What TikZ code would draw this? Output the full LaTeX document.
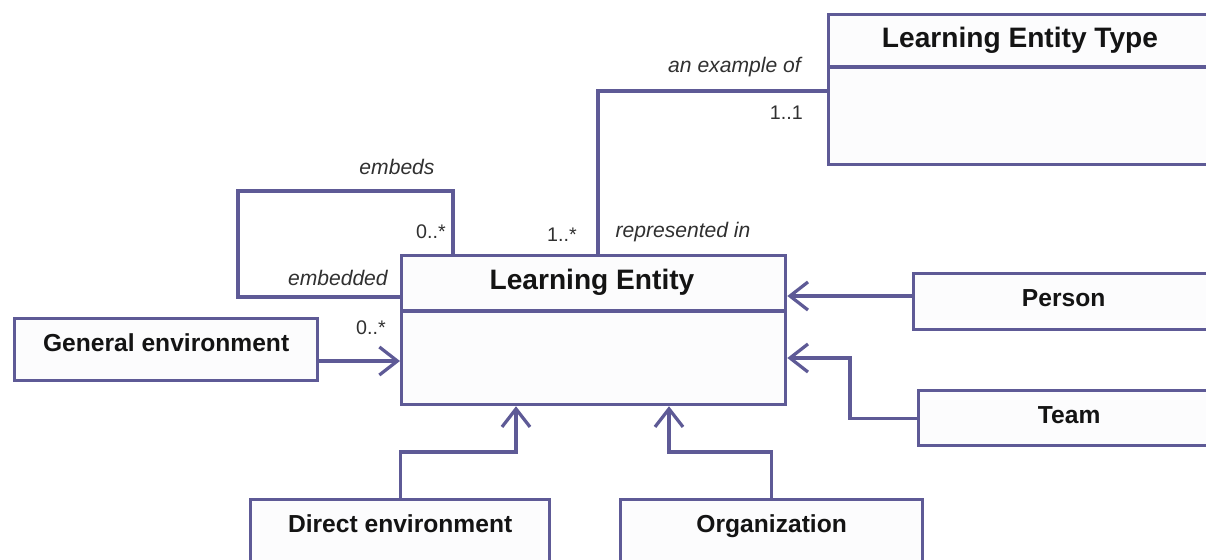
\documentclass[tikz,border=0pt]{standalone}
\usepackage{fontspec}
\setmainfont{Liberation Sans}
\usetikzlibrary{arrows.meta}
\definecolor{umlline}{RGB}{94,90,150}
\definecolor{umlfill}{RGB}{252,252,253}
\definecolor{umltext}{RGB}{20,20,20}

\begin{document}
\begin{tikzpicture}[x=0.025cm,y=-0.025cm,
            cls/.style={draw=umlline,fill=umlfill,line width=2.3pt,anchor=north west,inner sep=0pt},
            box/.style={cls,text=umltext,font=\fontsize{17.5}{20}\selectfont\bfseries,text height=0.825cm},
            head/.style={anchor=base,text=umltext,font=\fontsize{20}{24}\selectfont\bfseries},
            role/.style={text=umltext!88,font=\fontsize{15}{18}\selectfont\itshape,inner sep=0pt},
            mult/.style={text=umltext!88,font=\fontsize{14}{17}\selectfont,inner sep=0pt},
            conn/.style={draw=umlline,line width=2.3pt},
            gen/.style={conn,-{Straight Barb[length=0.45cm,width=0.7cm]}}]

            \useasboundingbox (0,0) rectangle (1206,560);

            \node (ltype) at (827,13) [cls,minimum width=9.625cm,minimum height=3.75cm] {};
            \node (le) at (400,254) [cls,minimum width=9.6cm,minimum height=3.725cm] {};
            \node (genenv) at (13,317) [box,minimum width=7.575cm,text depth=0.725cm] {General environment};
            \node (person) at (912,272) [box,minimum width=7.5cm,text depth=0.575cm] {Person};
            \node (team) at (917,389) [box,minimum width=7.525cm,text depth=0.55cm] {Team};
            \node (direnv) at (249,498) [box,minimum width=7.475cm,text depth=0.925cm] {Direct environment};
            \node (org) at (619,498) [box,minimum width=7.55cm,text depth=0.925cm] {Organization};

            \node (ltypehead) at (1020,47) [head] {Learning Entity Type};
            \node (lehead) at (592,289) [head] {Learning Entity};
            \draw[conn] (ltype.west |- 0,67) -- (ltype.east |- 0,67);
            \draw[conn] (le.west |- 0,311) -- (le.east |- 0,311);

            \coordinate (exk) at (598,91);
            \coordinate (loopa) at (238,191);
            \coordinate (loopb) at (453,191);
            \coordinate (teamk) at (850,358);
            \coordinate (dirk) at (516,452);
            \coordinate (orgk) at (669,452);

            \draw[conn] (ltype.west |- exk) -- (exk) -- (exk |- le.north);
            \draw[conn] (le.west |- 0,297) -| (loopa) -- (loopb) -- (loopb |- le.north);
            \draw[gen] (genenv.east |- 0,361) -- (le.west |- 0,361);
            \draw[gen] (person.west |- 0,296) -- (le.east |- 0,296);
            \draw[gen] (team.west) -| (teamk) -- (le.east |- teamk);
            \draw[gen] (direnv.north) |- (dirk) -- (dirk |- le.south);
            \draw[gen] (org.north) |- (orgk) -- (orgk |- le.south);

            \node (exof) at (801,67) [role,anchor=east] {an example of};
            \node (m11) at (803,113) [mult,anchor=east] {1..1};
            \node (repin) at (683,232) [role] {represented in};
            \node (m1s) at (562,235) [mult] {1..*};
            \node (embeds) at (397,167) [role] {embeds};
            \node (m0sa) at (446,232) [mult,anchor=east] {0..*};
            \node (embedded) at (388,278) [role,anchor=east] {embedded};
            \node (m0sb) at (371,328) [mult] {0..*};

        \end{tikzpicture}
\end{document}
